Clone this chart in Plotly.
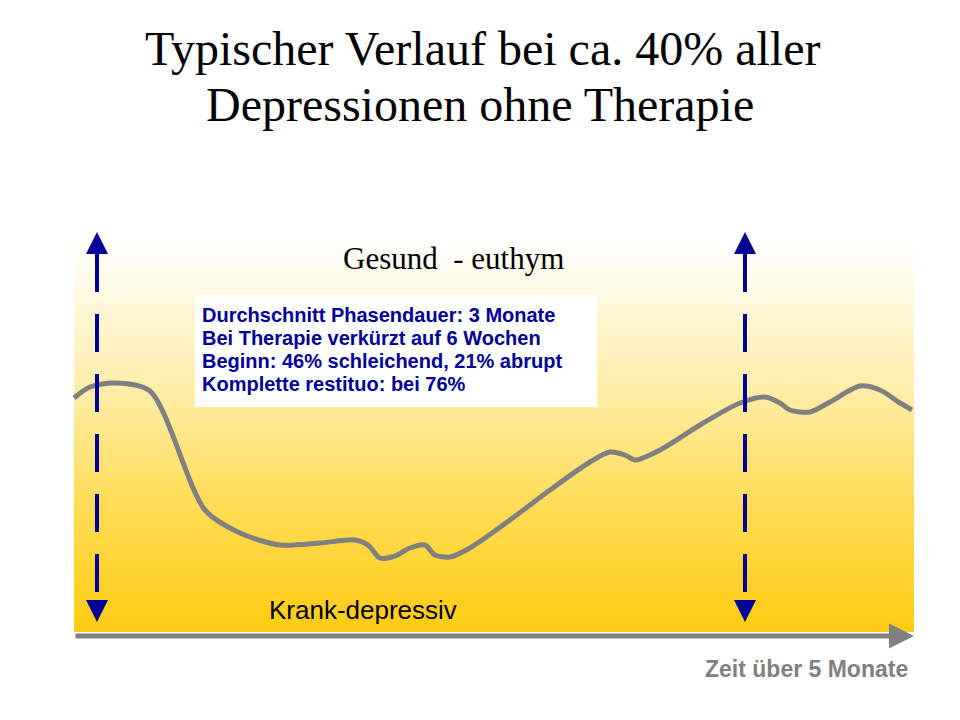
import plotly.graph_objects as go
import numpy as np

# Curve (slide pixel coordinates)
curve_x = [74,90,115,150,205,240,280,320,355,368,380,395,410,425,435,450,470,510,550,590,610,625,635,660,700,740,765,780,790,810,830,860,880,900,912]
curve_y = [398,387,383,391,510,533,545,543,540,545,558,556,548,545,555,557,548,520,490,462,452,455,460,450,425,403,397,403,410,412,402,386,390,403,410]
arrow_x = [97, 745]
arrow_top, arrow_bottom = 232, 622
title_lines = ["Typischer Verlauf bei ca. 40% aller", "Depressionen ohne Therapie"]
box_lines = ["Durchschnitt Phasendauer: 3 Monate", "Bei Therapie verkürzt auf 6 Wochen",
             "Beginn: 46% schleichend, 21% abrupt", "Komplette restituo: bei 76%"]

fig = go.Figure()
# gradient background (edges given)
gy = np.linspace(240, 632, 61)
mid = (gy[:-1] + gy[1:]) / 2
fig.add_trace(go.Heatmap(x=[74, 914], y=gy, z=[[v] for v in mid], showscale=False,
    colorscale=[[0, "#FFFFFF"], [0.35, "#FFEFB0"], [0.7, "#FFDB50"], [1, "#FFCC11"]],
    zmin=240, zmax=632, hoverinfo="skip"))
fig.add_shape(type="rect", x0=195, x1=597, y0=295, y1=407, fillcolor="white", line_width=0)
fig.add_trace(go.Scatter(x=curve_x, y=curve_y, mode="lines", line=dict(color="#808080", width=5, shape="spline", smoothing=0.8), hoverinfo="skip"))
for ax in arrow_x:
    fig.add_trace(go.Scatter(x=[ax, ax], y=[arrow_top + 22, arrow_bottom - 22], mode="lines",
        line=dict(color="#000099", width=4, dash="38px,22px"), hoverinfo="skip"))
    for y0, y1 in [(arrow_top + 20, arrow_top), (arrow_bottom - 20, arrow_bottom)]:
        fig.add_annotation(x=ax, y=y1, ax=ax, ay=y0, axref="x", ayref="y", xref="x", yref="y",
            showarrow=True, arrowhead=2, arrowsize=1.1, arrowwidth=4, arrowcolor="#000099", text="")
fig.add_annotation(x=914, y=636, ax=74, ay=636, axref="x", ayref="y", showarrow=True, arrowhead=2,
    arrowsize=1, arrowwidth=5, arrowcolor="#808080", text="")
serif = "Liberation Serif"
fig.add_annotation(x=482, y=48, text=title_lines[0], showarrow=False, font=dict(family=serif, size=48, color="black"))
fig.add_annotation(x=480, y=104, text=title_lines[1], showarrow=False, font=dict(family=serif, size=48, color="black"))
fig.add_annotation(x=453, y=258, text="Gesund  - euthym", showarrow=False, font=dict(family=serif, size=31, color="black"))
fig.add_annotation(x=363, y=610, text="Krank-depressiv", showarrow=False, font=dict(family="Liberation Sans", size=26, color="black"))
fig.add_annotation(x=910, y=669, text="<b>Zeit über 5 Monate</b>", xanchor="right", showarrow=False,
    font=dict(family="Liberation Sans", size=23, color="#808080"))
for i, t in enumerate(box_lines):
    fig.add_annotation(x=200, y=315 + i * 23, text="<b>" + t + "</b>", xanchor="left", showarrow=False,
        font=dict(family="Liberation Sans", size=20, color="#000099"))
fig.update_layout(width=960, height=720, margin=dict(l=0, r=0, t=0, b=0), showlegend=False,
    plot_bgcolor="white", paper_bgcolor="white",
    xaxis=dict(range=[8, 968], visible=False, fixedrange=True),
    yaxis=dict(range=[728, 8], visible=False, fixedrange=True))
fig.write_html("out.html")
